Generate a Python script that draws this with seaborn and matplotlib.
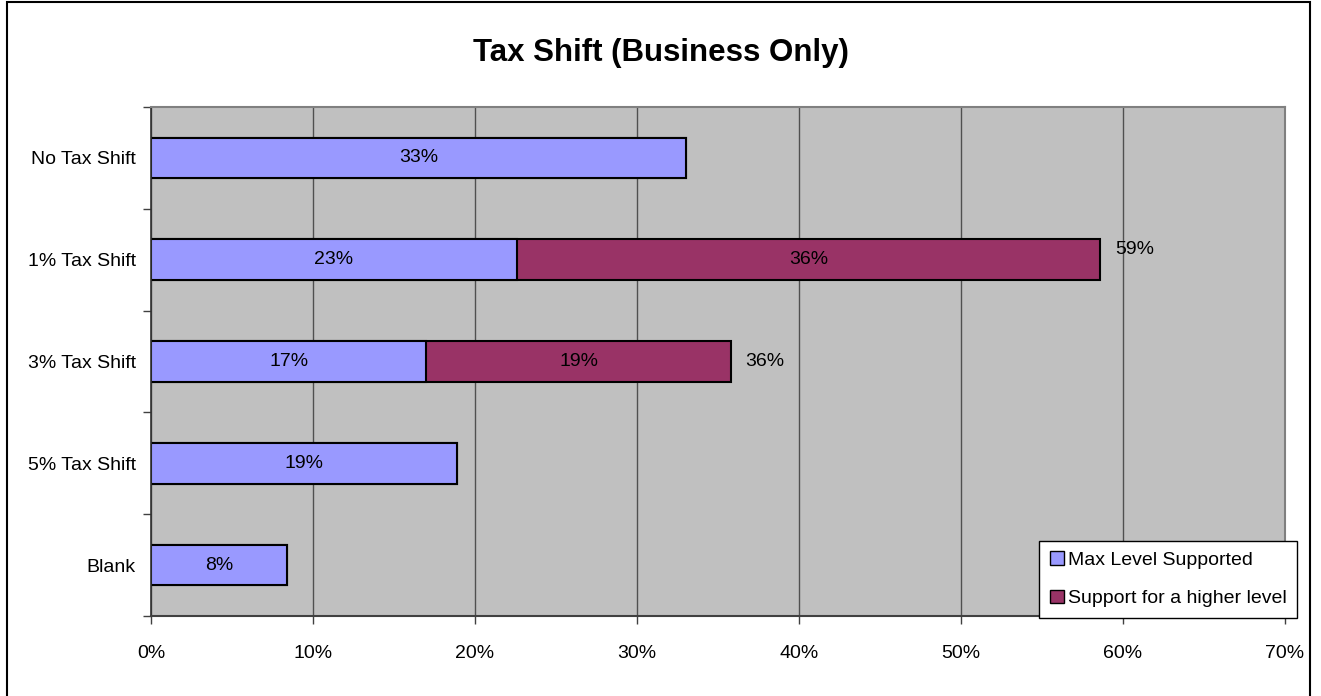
import matplotlib
matplotlib.use("Agg")
import matplotlib.pyplot as plt
import matplotlib.patches as mpatches
import seaborn as sns
import pandas as pd
import numpy as np

categories = ["No Tax Shift", "1% Tax Shift", "3% Tax Shift", "5% Tax Shift", "Blank"]
max_level = [33.0, 22.6, 17.0, 18.9, 8.4]
higher_level = [0.0, 36.0, 18.8, 0.0, 0.0]
x_ticks = [0, 10, 20, 30, 40, 50, 60, 70]
series_names = ["Max Level Supported", "Support for a higher level"]

BLUE = "#9999FF"
MAROON = "#993366"
FONT = ["Liberation Sans", "DejaVu Sans"]
FS = 14

sns.set_theme(style="white")
plt.rcParams["font.family"] = FONT
plt.rcParams["text.color"] = "black"

df = pd.DataFrame({"category": categories, "max": max_level, "higher": higher_level})
df["total"] = df["max"] + df["higher"]

fig = plt.figure(figsize=(13.21, 6.96), dpi=100)
ax = fig.add_axes([151 / 1321, 1 - 616 / 696, (1285 - 151) / 1321, (616 - 107) / 696])
ax.set_facecolor("#C0C0C0")

# stacked bars: full total in maroon, then the supported level in blue on top
sns.barplot(data=df, y="category", x="total", orient="h", color=MAROON, saturation=1,
            width=0.4, edgecolor="black", linewidth=1.5, ax=ax, order=categories)
sns.barplot(data=df, y="category", x="max", orient="h", color=BLUE, saturation=1,
            width=0.4, edgecolor="black", linewidth=1.5, ax=ax, order=categories)

ax.set_xlim(0, 70)
ax.set_ylim(4.5, -0.5)
ax.set_xticks(x_ticks)
ax.set_xticklabels([f"{t}%" for t in x_ticks], fontsize=FS, color="black")
ax.set_xlabel("")
ax.set_ylabel("")
ax.tick_params(axis="x", length=6, width=1, color="#404040", direction="out", pad=15, bottom=True)
ax.set_yticks(range(len(categories)))
ax.set_yticklabels(categories, fontsize=FS, color="black")
ax.tick_params(axis="y", which="major", length=0, pad=11)
ax.set_yticks(np.arange(-0.5, len(categories)), minor=True)
ax.tick_params(axis="y", which="minor", length=6, width=1, color="#404040", left=True)

ax.xaxis.grid(True, color="#505050", linewidth=1)
ax.set_axisbelow(True)
for side in ["top", "right"]:
    ax.spines[side].set_color("#808080")
    ax.spines[side].set_linewidth(1.5)
ax.spines["left"].set_color("#303030")
ax.spines["bottom"].set_color("#404040")
ax.spines["left"].set_linewidth(1.2)
ax.spines["bottom"].set_linewidth(1.5)

# value labels inside each segment, totals beside the stacked bars
for i, row in df.iterrows():
    ax.text(row["max"] / 2, i, f"{row['max']:.0f}%", ha="center", va="center", fontsize=FS)
    if row["higher"] > 0:
        ax.text(row["max"] + row["higher"] / 2, i, f"{row['higher']:.0f}%",
                ha="center", va="center", fontsize=FS)
        dy = -0.1 if i == 1 else 0.0
        ax.text(row["total"] + 0.9, i + dy, f"{row['total']:.0f}%",
                ha="left", va="center", fontsize=FS)

handles = [mpatches.Patch(facecolor=BLUE, edgecolor="black", linewidth=1),
           mpatches.Patch(facecolor=MAROON, edgecolor="black", linewidth=1)]
leg = fig.legend(handles, series_names, loc="lower left",
                 bbox_to_anchor=(1039 / 1321, 1 - 618 / 696), fontsize=FS,
                 frameon=True, fancybox=False, framealpha=1, edgecolor="black",
                 handlelength=0.72, handleheight=0.72, handletextpad=0.2,
                 borderpad=0.55, labelspacing=1.05, borderaxespad=0)
leg.get_frame().set_linewidth(1)

fig.text(0.5, 1 - 53 / 696, "Tax Shift (Business Only)", ha="center", va="center",
         fontsize=22.5, fontweight="bold")

# outer chart frame
fig.patches.append(mpatches.Rectangle((7 / 1321, -0.01), (1310 - 7) / 1321, 1 - 2 / 696 + 0.01,
                                      transform=fig.transFigure, fill=False,
                                      edgecolor="black", linewidth=1.5))

fig.savefig("out.png", dpi=100)
